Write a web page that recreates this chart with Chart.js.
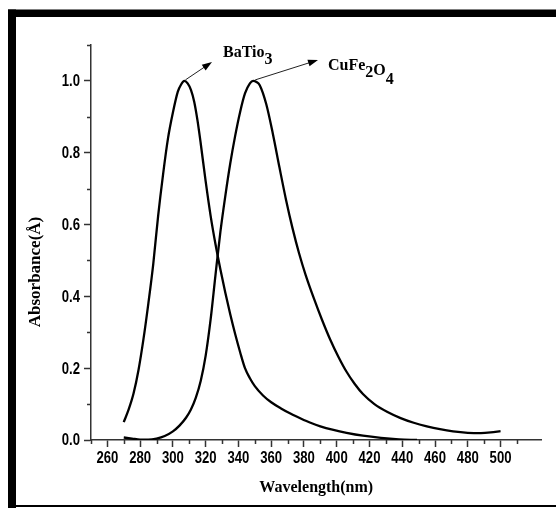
<!DOCTYPE html>
<html>
<head>
<meta charset="utf-8">
<script src="https://cdn.jsdelivr.net/npm/chart.js@4.4.1/dist/chart.umd.min.js"></script>
<style>
  html, body { margin: 0; padding: 0; background: #fff; }
</style>
</head>
<body>
<canvas id="uv" width="556" height="508"></canvas>
<script>
// ── spectra ────────────────────────────────────────────────
const baWave = [270, 273, 276, 279, 282, 285, 288, 291, 294, 297, 300, 303, 305, 307, 309, 311, 313, 315, 317, 320,
  323, 326, 329, 332, 335, 338, 341, 344, 347, 350, 355, 360, 366, 372, 378, 384, 390, 398, 406, 416,
  427, 438, 449];
const baAbs = [0.05, 0.085, 0.13, 0.195, 0.28, 0.38, 0.49, 0.625, 0.74, 0.84, 0.912, 0.97, 0.99, 1.0, 0.993, 0.975, 0.942, 0.89, 0.825, 0.72,
  0.625, 0.545, 0.475, 0.41, 0.35, 0.295, 0.245, 0.20, 0.172, 0.15, 0.124, 0.105, 0.088, 0.073, 0.06, 0.048, 0.038, 0.028, 0.02, 0.012,
  0.006, 0.002, 0.0];

const cuWave = [270, 275, 280, 285, 290, 295, 300, 304, 308, 311, 314, 317, 320, 323, 326, 329, 332, 335, 338, 341,
  344, 347, 349, 351, 353, 357, 361, 365, 369, 373, 377, 381, 386, 391, 396, 401, 406, 411, 416, 423,
  431, 439, 447, 455, 463, 471, 480, 488, 494, 500];
const cuAbs = [0.007, 0.004, 0.001, 0.001, 0.004, 0.011, 0.024, 0.04, 0.062, 0.085, 0.118, 0.165, 0.235, 0.335, 0.46, 0.58, 0.68, 0.77, 0.847, 0.913,
  0.965, 0.993, 1.0, 0.997, 0.988, 0.935, 0.853, 0.76, 0.67, 0.59, 0.52, 0.46, 0.395, 0.335, 0.28, 0.232, 0.19, 0.156, 0.128, 0.10,
  0.078, 0.061, 0.048, 0.038, 0.03, 0.024, 0.02, 0.019, 0.021, 0.025];

const xLabels = [260, 280, 300, 320, 340, 360, 380, 400, 420, 440, 460, 480, 500, 520];
const yLabels = [0.0, 0.2, 0.4, 0.6, 0.8, 1.0];

// ── helpers ────────────────────────────────────────────────
const AXIS = '#333';
const SANS = '"Liberation Sans", Arial, sans-serif';
const SERIF = '"Liberation Serif", "Times New Roman", serif';

const isMajorX = v => xLabels.includes(v);
const isMajorY = v => yLabels.includes(Math.round(v * 10) / 10);
const pts = (xs, ys) => xs.map((w, i) => ({ x: w, y: ys[i] }));

function peakOf(xs, ys) {
  let k = 0;
  ys.forEach((v, i) => { if (v > ys[k]) k = i; });
  return { x: xs[k], y: ys[k] };
}

function arrow(ctx, x1, y1, x2, y2) {
  const a = Math.atan2(y2 - y1, x2 - x1), c = Math.cos(a), s = Math.sin(a);
  ctx.beginPath(); ctx.moveTo(x1, y1); ctx.lineTo(x2 - 6 * c, y2 - 6 * s); ctx.stroke();
  ctx.beginPath();
  ctx.moveTo(x2, y2);
  ctx.lineTo(x2 - 10 * c + 3.5 * s, y2 - 10 * s - 3.5 * c);
  ctx.lineTo(x2 - 10 * c - 3.5 * s, y2 - 10 * s + 3.5 * c);
  ctx.closePath(); ctx.fill();
}

// parts: [text, baseline y]
function chem(ctx, x, parts) {
  parts.forEach(([t, by]) => { ctx.fillText(t, x, by); x += ctx.measureText(t).width; });
}

// narrow bold tick label (the figure used a condensed face)
function narrow(ctx, txt, x, y, align) {
  ctx.save();
  ctx.translate(x, y); ctx.scale(0.82, 1);
  ctx.textAlign = align; ctx.textBaseline = 'middle';
  ctx.fillText(txt, 0, 0);
  ctx.restore();
}

// ── frame, minor ticks, labels, titles, annotations ────────
const decor = {
  id: 'decor',
  beforeDraw(chart) {
    const { ctx, width, height } = chart;
    ctx.save(); ctx.fillStyle = '#fff'; ctx.fillRect(0, 0, width, height); ctx.restore();
  },
  afterDraw(chart) {
    const { ctx, chartArea: a, scales: { x, y } } = chart;
    ctx.save();

    // minor ticks (the library draws the major ones)
    ctx.strokeStyle = AXIS; ctx.lineWidth = 1.5;
    ctx.beginPath();
    x.ticks.forEach(t => {
      if (t.value % 10 !== 0 || isMajorX(t.value)) return;
      const px = Math.round(x.getPixelForValue(t.value)) + 0.5;
      ctx.moveTo(px, a.bottom); ctx.lineTo(px, a.bottom + 4);
    });
    y.ticks.forEach(t => {
      if (isMajorY(t.value)) return;
      const py = Math.round(y.getPixelForValue(t.value)) + 0.5;
      ctx.moveTo(a.left, py); ctx.lineTo(a.left - 4, py);
    });
    ctx.stroke();

    // tick labels
    ctx.fillStyle = '#000';
    ctx.font = 'bold 16px ' + SANS;
    x.ticks.forEach(t => { if (isMajorX(t.value)) narrow(ctx, String(t.value), x.getPixelForValue(t.value), a.bottom + 19, 'center'); });
    y.ticks.forEach(t => { if (isMajorY(t.value)) narrow(ctx, t.value.toFixed(1), a.left - 11, y.getPixelForValue(t.value) + 1, 'right'); });

    // axis titles
    ctx.font = 'bold 16px ' + SERIF;
    ctx.textAlign = 'center'; ctx.textBaseline = 'middle';
    ctx.fillText('Wavelength(nm)', (a.left + a.right) / 2, 488);
    ctx.save();
    ctx.translate(36, 272); ctx.rotate(-Math.PI / 2);
    ctx.font = 'bold 17px ' + SERIF;
    ctx.fillText('Absorbance(Å)', 0, 0);
    ctx.restore();

    // peak labels with arrows
    const pb = peakOf(baWave, baAbs), pc = peakOf(cuWave, cuAbs);
    ctx.strokeStyle = '#222'; ctx.lineWidth = 1;
    arrow(ctx, x.getPixelForValue(pb.x) + 1, y.getPixelForValue(pb.y) - 1, 212, 62);
    arrow(ctx, x.getPixelForValue(pc.x) + 2, y.getPixelForValue(pc.y) - 1, 318, 60);
    ctx.font = 'bold 16px ' + SERIF;
    ctx.textAlign = 'left'; ctx.textBaseline = 'alphabetic';
    chem(ctx, 223, [['BaTio', 57], ['3', 64]]);
    chem(ctx, 328, [['CuFe', 70], ['2', 77], ['O', 75], ['4', 84]]);

    // black frame of the scanned figure
    ctx.fillRect(8, 9.5, 548, 7.5);
    ctx.fillRect(8, 9.5, 8, 498.5);
    ctx.fillRect(8, 505, 548, 2);
    ctx.restore();
  }
};

const line = (data) => ({
  data, showLine: true, pointRadius: 0, borderColor: '#000', borderWidth: 2.3,
  cubicInterpolationMode: 'monotone', fill: false,
});

const axisGrid = isMajor => ({
  drawOnChartArea: false, tickLength: 7, tickWidth: 1.5,
  tickColor: c => isMajor(c.tick.value) ? AXIS : 'rgba(0,0,0,0)',
});

new Chart(document.getElementById('uv'), {
  type: 'scatter',
  data: { datasets: [line(pts(baWave, baAbs)), line(pts(cuWave, cuAbs))] },
  plugins: [decor],
  options: {
    responsive: false, animation: false, devicePixelRatio: 1,
    layout: { padding: { top: 45, right: 14.5, bottom: 0, left: 0 } },
    plugins: { legend: { display: false }, tooltip: { enabled: false } },
    scales: {
      x: {
        type: 'linear', position: 'bottom', min: 250, max: 525,
        border: { color: AXIS, width: 1.5 },
        grid: axisGrid(isMajorX),
        ticks: { display: false, stepSize: 10, autoSkip: false, maxTicksLimit: 100 },
        afterFit: s => { s.height = 68; },
      },
      y: {
        type: 'linear', min: 0, max: 1.1,
        border: { color: AXIS, width: 1.5 },
        grid: axisGrid(isMajorY),
        ticks: { display: false, stepSize: 0.1, autoSkip: false, maxTicksLimit: 100 },
        afterFit: s => { s.width = 91; },
      },
    },
  },
});
</script>
</body>
</html>
